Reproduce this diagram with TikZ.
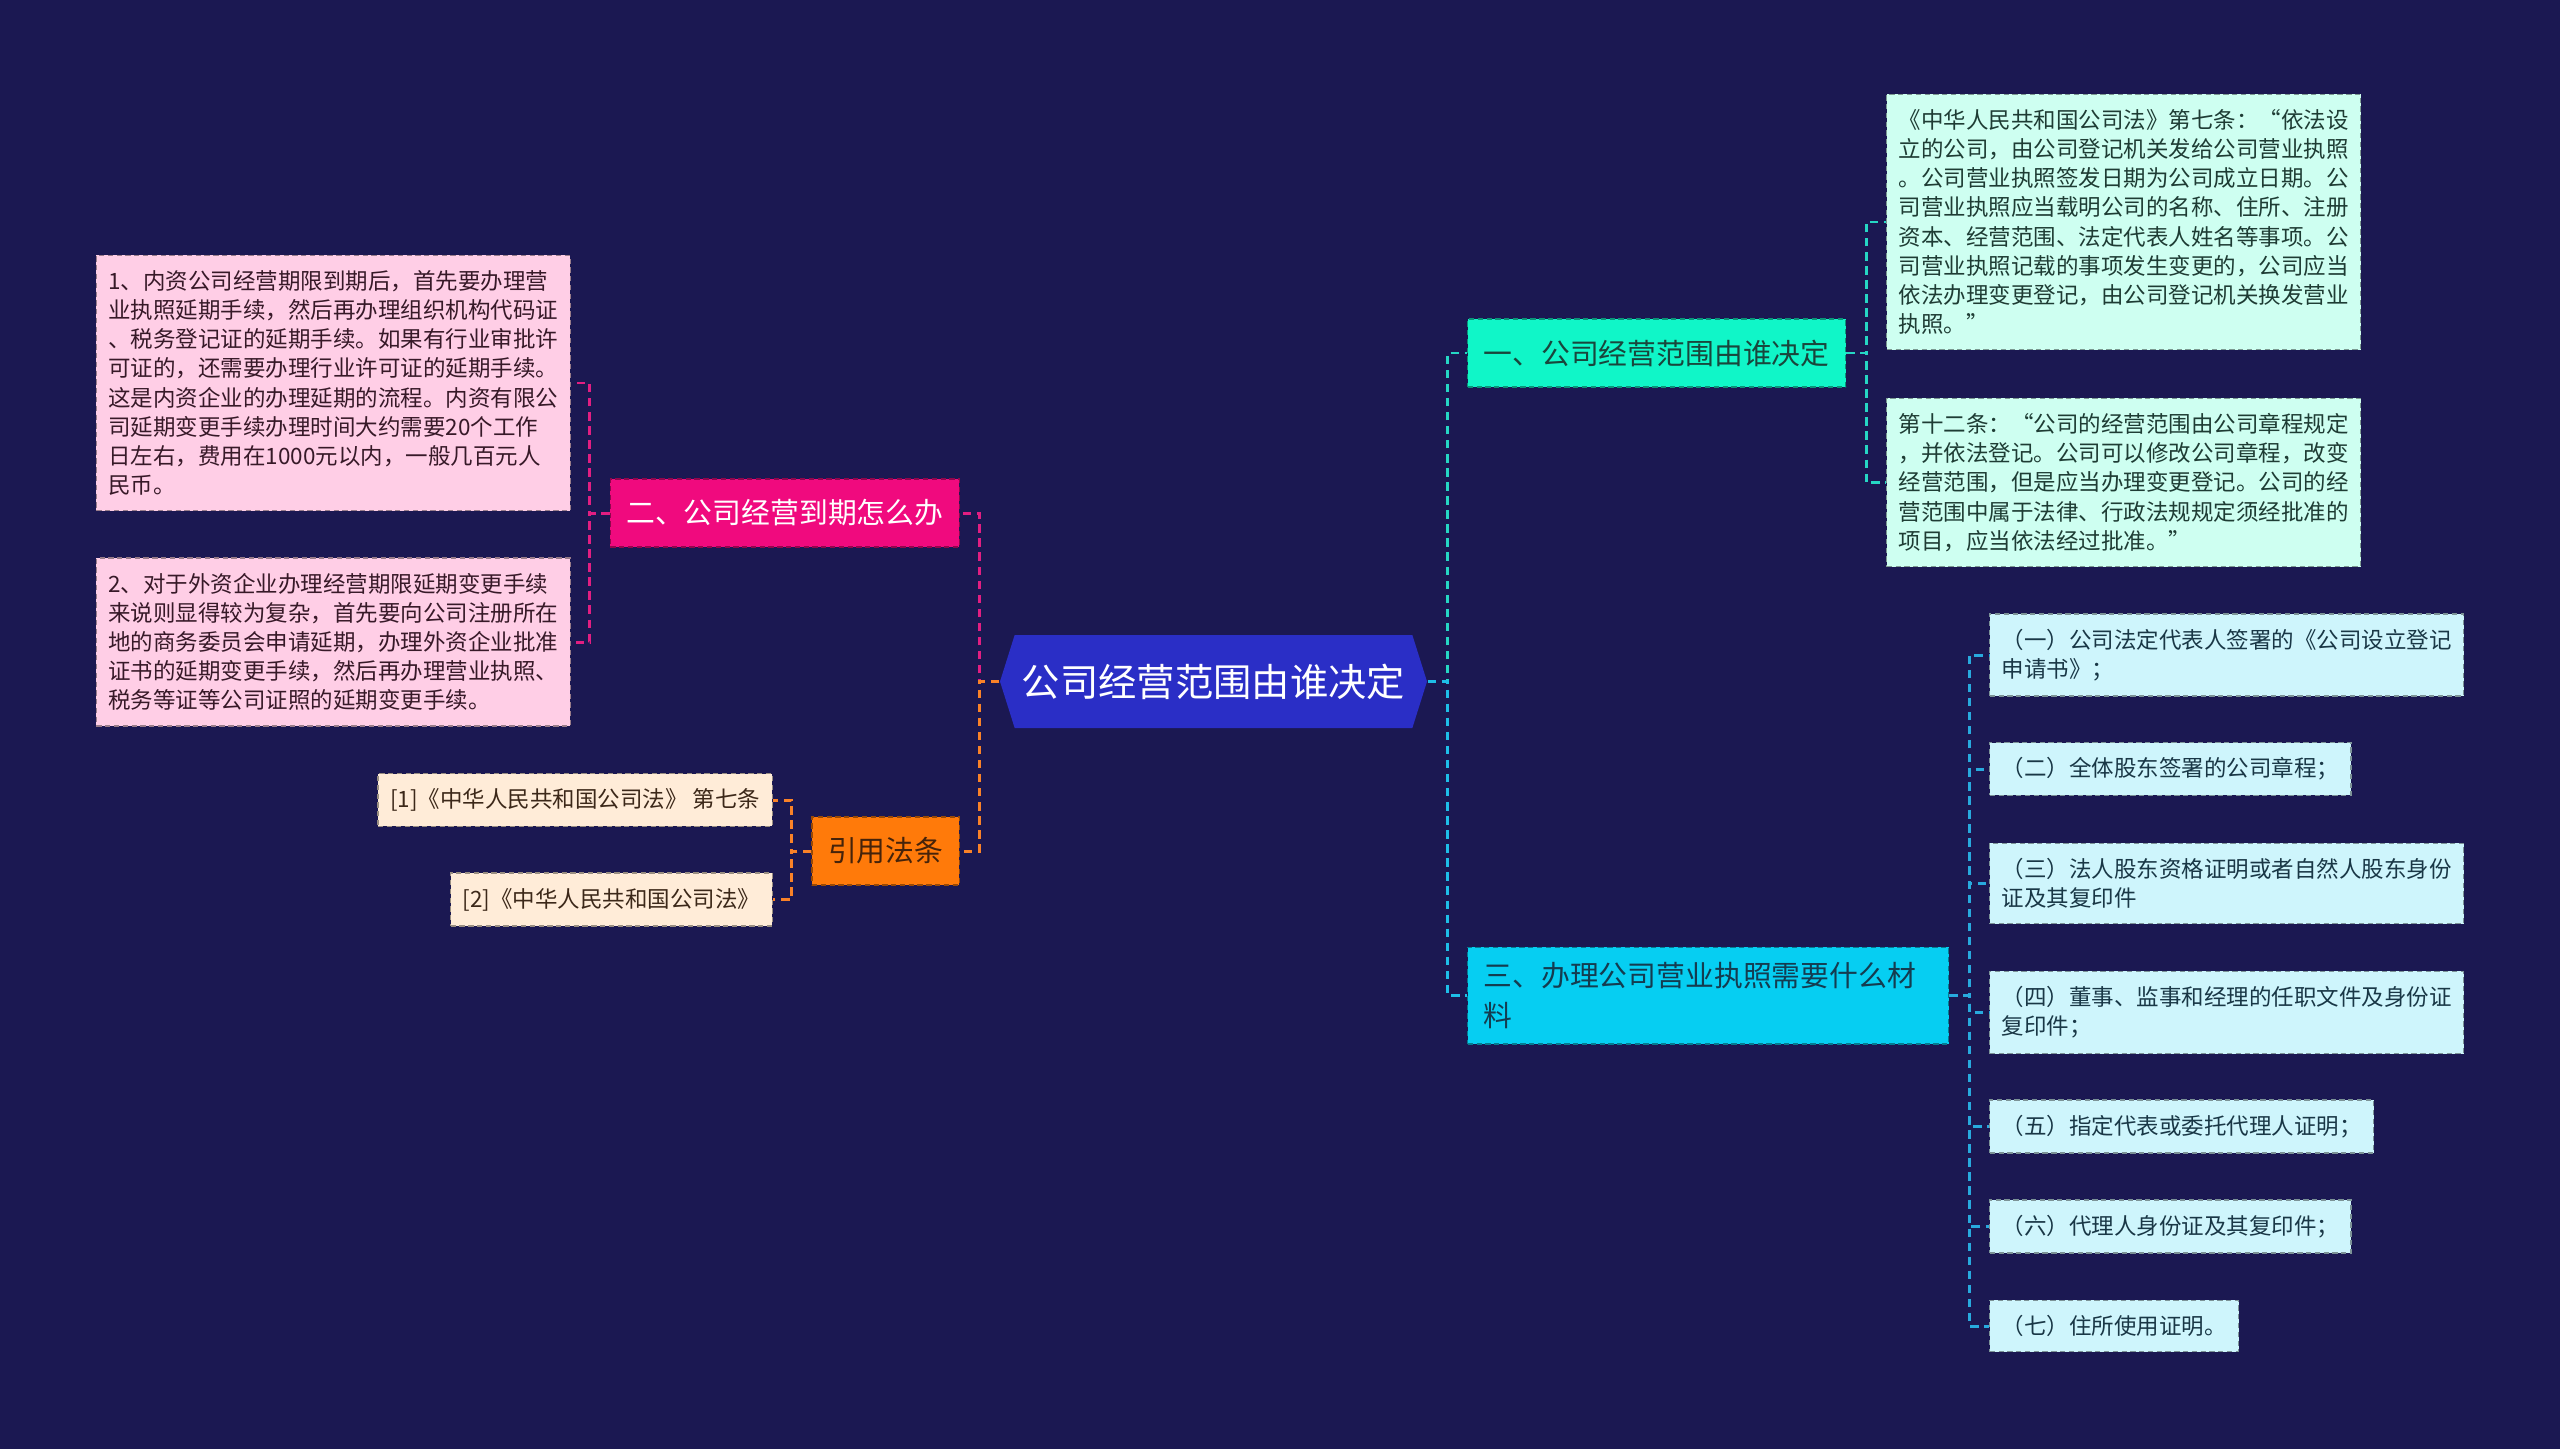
\documentclass[tikz,border=0pt]{standalone}
\usepackage{fontspec}
\setmainfont{Noto Sans CJK SC}
\usetikzlibrary{shapes.symbols}

\definecolor{bgnavy}{RGB}{27,24,82}
\definecolor{rootblue}{RGB}{42,46,198}
\definecolor{tealbox}{RGB}{16,246,200}
\definecolor{mintbox}{RGB}{206,255,241}
\definecolor{cyanbox}{RGB}{6,206,242}
\definecolor{icebox}{RGB}{206,245,252}
\definecolor{rosebox}{RGB}{240,10,126}
\definecolor{pinkbox}{RGB}{255,206,230}
\definecolor{amberbox}{RGB}{255,122,10}
\definecolor{creambox}{RGB}{255,236,216}
\definecolor{lnteal}{RGB}{38,214,196}
\definecolor{lncyan}{RGB}{30,190,232}
\definecolor{lnblue}{RGB}{40,170,222}
\definecolor{lnrose}{RGB}{226,30,130}
\definecolor{lnamber}{RGB}{250,130,40}

\begin{document}
\begin{tikzpicture}[
    link/.style={dash pattern=on 2.4pt off 1.6pt, line width=0.85pt},
    box/.style={rectangle, draw=#1!60!black, fill=#1, line width=0.4pt,
      dash pattern=on 1.5pt off 1pt, align=left, inner ysep=0.15cm},
    leaf/.style={box=#1, inner xsep=0.12cm, font=\fontsize{6.4}{8.3}\selectfont},
    branch/.style={box=#1, inner xsep=0.16cm, minimum height=0.68cm,
      font=\fontsize{8.2}{11.4}\selectfont},
    rootbox/.style={signal, signal to=west and east, signal pointer angle=145,
      fill=rootblue, text=white, inner sep=0, minimum width=4.27cm,
      minimum height=0.93cm, font=\fontsize{10.9}{13}\selectfont}]
  \fill[bgnavy] (0,0) rectangle (25.6,-14.49);

  \node[rootbox] (root) at (12.135,-6.815) {公司经营范围由谁决定};

  % right side
  \node[branch=tealbox, text={rgb,255:red,25;green,70;blue,60}, anchor=west] (b1) at (14.67,-3.53) {一、公司经营范围由谁决定};
  \node[branch=cyanbox, text={rgb,255:red,20;green,60;blue,80}, anchor=west, text width=4.49cm] (b3) at (14.67,-9.955) {三、办理公司营业执照需要什么材\\料};

  \node[leaf=mintbox, text={rgb,255:red,30;green,60;blue,52}, anchor=west] (m1) at (18.86,-2.22) {《中华人民共和国公司法》第七条：“依法设\\立的公司，由公司登记机关发给公司营业执照\\。公司营业执照签发日期为公司成立日期。公\\司营业执照应当载明公司的名称、住所、注册\\资本、经营范围、法定代表人姓名等事项。公\\司营业执照记载的事项发生变更的，公司应当\\依法办理变更登记，由公司登记机关换发营业\\执照。”};
  \node[leaf=mintbox, text={rgb,255:red,30;green,60;blue,52}, anchor=west] (m2) at (18.86,-4.825) {第十二条：“公司的经营范围由公司章程规定\\，并依法登记。公司可以修改公司章程，改变\\经营范围，但是应当办理变更登记。公司的经\\营范围中属于法律、行政法规规定须经批准的\\项目，应当依法经过批准。”};

  \node[leaf=icebox, text={rgb,255:red,25;green,55;blue,70}, anchor=west] (l1) at (19.89,-6.55) {（一）公司法定代表人签署的《公司设立登记\\申请书》；};
  \node[leaf=icebox, text={rgb,255:red,25;green,55;blue,70}, anchor=west] (l2) at (19.89,-7.69) {（二）全体股东签署的公司章程；};
  \node[leaf=icebox, text={rgb,255:red,25;green,55;blue,70}, anchor=west] (l3) at (19.89,-8.835) {（三）法人股东资格证明或者自然人股东身份\\证及其复印件};
  \node[leaf=icebox, text={rgb,255:red,25;green,55;blue,70}, anchor=west] (l4) at (19.89,-10.125) {（四）董事、监事和经理的任职文件及身份证\\复印件；};
  \node[leaf=icebox, text={rgb,255:red,25;green,55;blue,70}, anchor=west] (l5) at (19.89,-11.265) {（五）指定代表或委托代理人证明；};
  \node[leaf=icebox, text={rgb,255:red,25;green,55;blue,70}, anchor=west] (l6) at (19.89,-12.265) {（六）代理人身份证及其复印件；};
  \node[leaf=icebox, text={rgb,255:red,25;green,55;blue,70}, anchor=west] (l7) at (19.89,-13.26) {（七）住所使用证明。};

  % left side
  \node[branch=rosebox, text=white, anchor=east] (b2) at (9.60,-5.13) {二、公司经营到期怎么办};
  \node[branch=amberbox, text={rgb,255:red,70;green,35;blue,10}, anchor=east] (b4) at (9.60,-8.51) {引用法条};

  \node[leaf=pinkbox, text={rgb,255:red,55;green,25;blue,40}, anchor=east] (p1) at (5.71,-3.83) {1、内资公司经营期限到期后，首先要办理营\\业执照延期手续，然后再办理组织机构代码证\\、税务登记证的延期手续。如果有行业审批许\\可证的，还需要办理行业许可证的延期手续。\\这是内资企业的办理延期的流程。内资有限公\\司延期变更手续办理时间大约需要20个工作\\日左右，费用在1000元以内，一般几百元人\\民币。};
  \node[leaf=pinkbox, text={rgb,255:red,55;green,25;blue,40}, anchor=east] (p2) at (5.71,-6.42) {2、对于外资企业办理经营期限延期变更手续\\来说则显得较为复杂，首先要向公司注册所在\\地的商务委员会申请延期，办理外资企业批准\\证书的延期变更手续，然后再办理营业执照、\\税务等证等公司证照的延期变更手续。};

  \node[leaf=creambox, text={rgb,255:red,60;green,40;blue,25}, anchor=east] (r1) at (7.73,-8.00) {[1]《中华人民共和国公司法》 第七条};
  \node[leaf=creambox, text={rgb,255:red,60;green,40;blue,25}, anchor=east] (r2) at (7.73,-8.995) {[2]《中华人民共和国公司法》};

  % connectors
  \draw[link, lnteal] (root.east) -- ++(0.2,0) |- (b1.west);
  \draw[link, lncyan] (root.east) -- ++(0.2,0) |- (b3.west);
  \draw[link, lnrose] (root.west) -- ++(-0.2,0) |- (b2.east);
  \draw[link, lnamber] (root.west) -- ++(-0.2,0) |- (b4.east);
  \foreach \c in {m1,m2} \draw[link, lnteal] (b1.east) -- ++(0.2,0) |- (\c.west);
  \foreach \c in {l1,l2,l3,l4,l5,l6,l7} \draw[link, lnblue] (b3.east) -- ++(0.2,0) |- (\c.west);
  \foreach \c in {p1,p2} \draw[link, lnrose] (b2.west) -- ++(-0.2,0) |- (\c.east);
  \foreach \c in {r1,r2} \draw[link, lnamber] (b4.west) -- ++(-0.2,0) |- (\c.east);
\end{tikzpicture}
\end{document}
